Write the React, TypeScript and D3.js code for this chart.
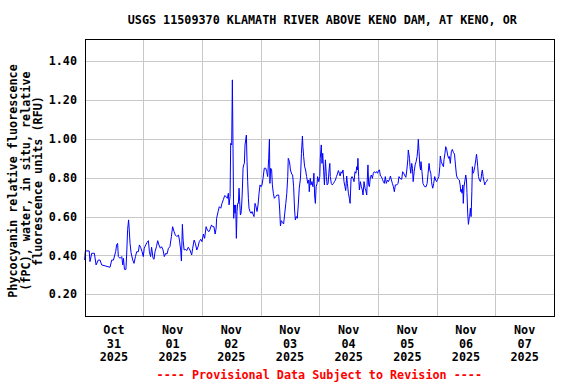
import React from "react";
import * as d3 from "d3";

const TITLE = "USGS 11509370 KLAMATH RIVER ABOVE KENO DAM, AT KENO, OR";
const Y_LABEL_LINES = [
  "Phycocyanin relative fluorescence",
  "(fPC), water, in situ, relative",
  "fluorescence units (RFU)",
];
const FOOTER = "---- Provisional Data Subject to Revision ----";

const Y_TICKS = [0.2, 0.4, 0.6, 0.8, 1.0, 1.2, 1.4];
const DAY_LABELS = [
  ["Oct", "31", "2025"],
  ["Nov", "01", "2025"],
  ["Nov", "02", "2025"],
  ["Nov", "03", "2025"],
  ["Nov", "04", "2025"],
  ["Nov", "05", "2025"],
  ["Nov", "06", "2025"],
  ["Nov", "07", "2025"],
];

// hours since 2025-10-31 00:00
const HOURS = [
  0.0, 0.3, 1.9, 2.2, 2.9, 4.0, 4.7, 5.6, 6.3, 7.0, 10.4, 11.1, 11.8, 12.7, 13.1, 13.5, 13.8, 14.5, 15.2, 15.6,
  15.9, 16.3, 16.9, 17.2, 17.6, 18.0, 18.6, 19.0, 19.7, 20.2, 20.8, 21.3, 22.0, 22.4, 22.9, 23.5, 24.0, 24.4, 25.0, 25.5,
  26.1, 26.5, 27.0, 27.4, 28.0, 28.4, 28.8, 29.4, 29.9, 30.4, 31.0, 31.5, 32.1, 32.6, 33.2, 33.7, 34.3, 34.9, 35.5, 36.0,
  36.6, 37.1, 37.7, 38.4, 38.8, 39.3, 39.6, 40.0, 40.3, 40.7, 41.2, 41.8, 42.4, 43.1, 43.8, 44.2, 44.8, 45.3, 45.9, 46.4,
  46.9, 47.5, 48.0, 48.6, 49.1, 49.7, 50.2, 50.8, 51.3, 51.9, 52.4, 52.9, 53.4, 53.8, 54.0, 54.6, 55.1, 55.7, 56.2, 56.8,
  57.3, 57.9, 58.4, 58.8, 59.1, 59.5,
  59.76, 60.17, 60.44, 60.71, 60.99, 61.26, 61.53, 61.81, 62.08, 62.35, 62.62, 62.9, 63.17, 63.44, 63.72, 63.99, 64.26,
  64.53, 64.81, 65.08, 65.35, 65.62, 65.9, 66.17, 66.44, 66.71, 66.99, 67.26, 67.67, 68.08, 68.49, 68.9, 69.31, 69.71,
  70.12, 70.53, 70.94, 71.35, 71.76, 72.17, 72.58, 72.99,
  73.5, 74.1, 74.5, 74.9, 75.3, 75.6, 75.8, 76.1, 76.5, 76.8, 77.2, 77.6, 78.2, 78.7, 79.4, 79.8, 80.1, 80.5, 81.0, 81.4,
  81.8, 82.3, 82.7, 83.1, 83.3, 83.8, 84.2, 84.7, 85.1, 85.5, 85.9, 86.2, 86.6, 87.0, 87.4, 87.8, 88.3, 88.7, 89.1, 89.3,
  89.6, 90.0, 90.4, 90.8, 91.3, 91.7, 91.9, 92.3, 92.6, 93.0, 93.4, 93.8, 94.1, 94.4, 94.7, 95.1, 95.3, 95.8, 96.2, 96.4,
  96.8, 97.1, 97.4, 97.8, 98.1, 98.5, 98.9, 99.2, 99.6, 100.0, 100.3, 100.5, 100.9, 101.3, 101.8, 102.2, 102.6, 103.0,
  103.4, 103.8, 104.2, 104.5, 104.9, 105.3, 105.7, 106.1, 106.5, 106.8, 107.2, 107.5, 107.9, 108.3, 108.6, 109.0, 109.4,
  109.8, 110.2, 110.6, 111.0, 111.3, 111.6, 111.8, 112.1, 112.4, 112.8, 113.2, 113.6, 113.9, 114.3, 114.7, 115.0, 115.4,
  115.7, 115.9, 116.2, 116.5, 116.9, 117.3, 117.7, 118.1, 118.5, 118.9, 119.4, 119.8, 120.2, 120.6, 121.0, 121.4, 121.8,
  122.2, 122.6, 123.0, 123.4, 123.9, 124.3, 124.7, 125.1, 125.5, 125.9, 126.3, 126.7, 127.1, 127.7, 128.2, 128.6,
  129.0, 129.7, 130.1, 130.5, 130.9, 131.4, 131.8, 132.2, 132.4, 132.9, 133.1, 133.4, 133.8, 134.1, 134.4, 134.8, 135.2,
  135.6, 136.0, 136.3, 136.5, 136.8, 137.1, 137.4, 137.6, 138.0, 138.4, 138.7, 139.1, 139.7, 140.1, 140.5, 140.9, 141.2,
  141.6, 141.9, 142.1, 142.4, 142.8, 143.2, 143.6, 144.0, 144.4, 144.9, 145.3, 145.5, 145.9, 146.4, 146.8, 147.0, 147.4,
  147.7, 148.1, 148.5, 148.9, 149.2, 149.6, 150.0, 150.4, 150.9, 151.3, 151.7, 152.1, 152.5, 152.9, 153.3, 153.6, 153.9,
  154.1, 154.4, 154.7, 154.9, 155.2, 155.6, 155.9, 156.2, 156.4, 156.7, 157.0, 157.3, 157.5, 157.8, 158.1, 158.4, 158.6,
  158.9, 159.2, 159.6, 160.0, 160.3, 160.5, 160.8, 161.1, 161.5, 161.9, 162.2, 162.4, 162.7, 163.0, 163.4, 163.7, 163.9,
  164.4, 164.8,
];

const VALUES = [
  0.376, 0.423, 0.423, 0.368, 0.411, 0.411, 0.351, 0.376, 0.376, 0.351, 0.339, 0.376, 0.376, 0.419, 0.454, 0.462, 0.394, 0.385, 0.394, 0.351,
  0.385, 0.328, 0.328, 0.402, 0.534, 0.583, 0.462, 0.414, 0.376, 0.359, 0.394, 0.419, 0.419, 0.454, 0.442, 0.419, 0.394, 0.437, 0.454, 0.466,
  0.476, 0.419, 0.394, 0.442, 0.385, 0.38, 0.419, 0.445, 0.476, 0.454, 0.437, 0.445, 0.428, 0.394, 0.411, 0.407, 0.437, 0.445, 0.497, 0.548,
  0.522, 0.505, 0.497, 0.505, 0.479, 0.428, 0.371, 0.56, 0.479, 0.428, 0.431, 0.425, 0.442, 0.428, 0.402, 0.437, 0.479, 0.462, 0.428, 0.445,
  0.471, 0.483, 0.471, 0.51, 0.488, 0.548, 0.531, 0.522, 0.534, 0.557, 0.548, 0.548, 0.51, 0.54, 0.591, 0.625, 0.651, 0.643, 0.668, 0.689,
  0.708, 0.703, 0.694, 0.72, 0.66, 0.703,
  0.977, 0.969, 1.304, 0.952, 0.591, 0.66, 0.617, 0.66, 0.488, 0.626, 0.668, 0.668, 0.746, 0.677, 0.608, 0.617, 0.66,
  0.737, 0.849, 0.866, 0.874, 0.969, 0.995, 1.02, 0.883, 0.78, 0.694, 0.643, 0.626, 0.617, 0.626, 0.612, 0.6, 0.668,
  0.651, 0.626, 0.66, 0.72, 0.763, 0.754, 0.763, 0.797,
  0.849, 0.849, 0.831, 0.806, 0.9, 0.998, 0.771, 0.849, 0.84, 0.763, 0.72, 0.694, 0.703, 0.711, 0.711, 0.634, 0.552, 0.579, 0.569, 0.562,
  0.608, 0.668, 0.72, 0.806, 0.9, 0.883, 0.84, 0.819, 0.814, 0.754, 0.634, 0.583, 0.6, 0.591, 0.66, 0.746, 0.797, 0.926, 1.015, 0.96,
  0.909, 0.857, 0.84, 0.806, 0.771, 0.788, 0.728, 0.797, 0.763, 0.78, 0.754, 0.823, 0.706, 0.668, 0.754, 0.771, 0.806, 0.78, 0.806, 0.9,
  0.969, 0.874, 0.926, 0.831, 0.763, 0.892, 0.806, 0.763, 0.771, 0.84, 0.874, 0.806, 0.771, 0.763, 0.771, 0.78, 0.788, 0.806,
  0.819, 0.837, 0.823, 0.809, 0.831, 0.823, 0.84, 0.78, 0.754, 0.734, 0.809, 0.771, 0.72, 0.694, 0.668, 0.797, 0.806,
  0.797, 0.78, 0.831, 0.823, 0.857, 0.84, 0.9, 0.806, 0.737, 0.78, 0.754, 0.737, 0.711, 0.78, 0.746, 0.737, 0.711,
  0.814, 0.866, 0.763, 0.754, 0.806, 0.814, 0.797, 0.823, 0.831, 0.826, 0.831, 0.823, 0.837, 0.84, 0.809, 0.806, 0.792,
  0.78, 0.771, 0.806, 0.771, 0.788, 0.78, 0.792, 0.809, 0.788, 0.771, 0.754, 0.728, 0.763, 0.763, 0.771, 0.806,
  0.797, 0.792, 0.831, 0.823, 0.814, 0.802, 0.84, 0.892, 0.943, 0.9, 0.857, 0.823, 0.874, 0.849, 0.78, 0.831, 0.866,
  0.883, 0.909, 0.952, 0.998, 0.934, 0.866, 0.84, 0.883, 0.831, 0.771, 0.763, 0.754, 0.754, 0.771, 0.823, 0.874, 0.84,
  0.823, 0.78, 0.763, 0.746, 0.771, 0.806, 0.788, 0.78, 0.792, 0.806, 0.857, 0.912, 0.883, 0.866, 0.857, 0.892, 0.926,
  0.96, 0.946, 0.917, 0.9, 0.909, 0.874, 0.934, 0.946, 0.929, 0.922, 0.866, 0.814, 0.797, 0.792, 0.788, 0.763, 0.728,
  0.74, 0.72, 0.763, 0.668, 0.754, 0.788, 0.814, 0.788, 0.723, 0.617, 0.56, 0.591, 0.6, 0.643, 0.6, 0.728, 0.857,
  0.823, 0.831, 0.857, 0.892, 0.921, 0.9, 0.857, 0.806, 0.788, 0.78, 0.797, 0.823, 0.84, 0.806, 0.78, 0.763, 0.775,
  0.78, 0.792,
];

const W = 576;
const H = 384;
const M = { left: 84.6, right: 554, top: 39.3, bottom: 316 };
const FONT = "'DejaVu Sans Mono', 'Liberation Mono', monospace";
const FS = 11.75;

export default function App() {
  const start = new Date(2025, 9, 31, 0, 0, 0);
  const end = d3.timeDay.offset(start, 8);
  const x = d3.scaleTime().domain([start, end]).range([M.left, M.right]);
  const y = d3.scaleLinear().domain([0.088, 1.513]).range([M.bottom, M.top]);

  const data = HOURS.map((h, i) => ({ t: new Date(start.getTime() + h * 3600e3), v: VALUES[i] }));
  const line = d3
    .line<{ t: Date; v: number }>()
    .x((d) => x(d.t))
    .y((d) => y(d.v));

  const dayTicks = d3.timeDay.range(d3.timeDay.offset(start, 1), end);
  const noonTicks = d3.timeDay.range(start, end).map((d) => d3.timeHour.offset(d, 12));
  const labelCenterY = 181;

  return (
    <svg
      width={W}
      height={H}
      style={{ position: "absolute", left: 0, top: 0, background: "#fff" }}
      fontFamily={FONT}
      fontWeight="bold"
      fontSize={FS}
    >
      <rect x={0} y={0} width={W} height={H} fill="#fff" />
      {/* grid */}
      {Y_TICKS.map((t) => (
        <line key={"gy" + t} x1={M.left} x2={M.right} y1={Math.round(y(t)) + 0.5} y2={Math.round(y(t)) + 0.5} stroke="#c8c8c8" strokeWidth={1} />
      ))}
      {dayTicks.map((d, i) => (
        <line key={"gx" + i} x1={Math.round(x(d)) + 0.5} x2={Math.round(x(d)) + 0.5} y1={M.top} y2={M.bottom} stroke="#c8c8c8" strokeWidth={1} />
      ))}
      {/* data */}
      <path d={line(data) || ""} fill="none" stroke="#0000ff" strokeWidth={1} />
      {/* frame */}
      <rect x={Math.round(M.left) + 0.5} y={Math.round(M.top) + 0.5} width={Math.round(M.right - M.left)} height={Math.round(M.bottom - M.top)} fill="none" stroke="#000" strokeWidth={1} />
      {/* y tick labels */}
      {Y_TICKS.map((t) => (
        <text key={"yl" + t} x={77} y={y(t)} dy="0.35em" textAnchor="end" fill="#000">
          {t.toFixed(2)}
        </text>
      ))}
      {/* x tick labels */}
      {noonTicks.map((d, i) => (
        <text key={"xl" + i} x={x(d)} textAnchor="middle" fill="#000">
          {DAY_LABELS[i].map((s, j) => (
            <tspan key={j} x={x(d)} y={334 + j * 13.5}>
              {s}
            </tspan>
          ))}
        </text>
      ))}
      {/* title */}
      <text x={(M.left + M.right) / 2 + 3} y={24} textAnchor="middle" fill="#000">
        {TITLE}
      </text>
      {/* y axis label */}
      {Y_LABEL_LINES.map((s, i) => (
        <text key={"ya" + i} transform={`translate(${17 + i * 12.5},${labelCenterY}) rotate(-90)`} textAnchor="middle" fill="#000">
          {s}
        </text>
      ))}
      {/* footer */}
      <text x={(M.left + M.right) / 2} y={379} textAnchor="middle" fill="#ff0000">
        {FOOTER}
      </text>
    </svg>
  );
}
